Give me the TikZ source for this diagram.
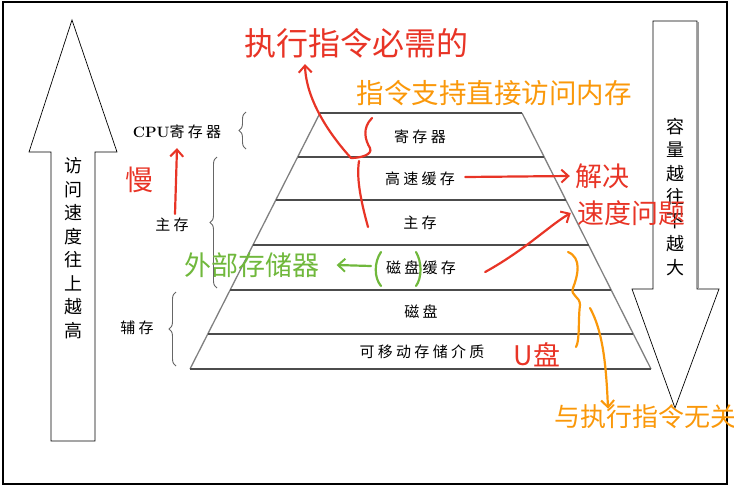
\documentclass[tikz,border=0pt]{standalone}
\usepackage{fontspec}
\newfontfamily\cjk{Noto Sans CJK SC}
\newfontfamily\cjkspaced[LetterSpace=22]{Noto Sans CJK SC}
\usetikzlibrary{arrows.meta,decorations.pathreplacing}
\definecolor{penred}{RGB}{232,52,38}
\definecolor{penorange}{RGB}{250,152,10}
\definecolor{pengreen}{RGB}{112,184,60}
\tikzset{
  layer/.style={font=\fontsize{15}{15}\cjkspaced, inner sep=0pt},
  memline/.style={draw=black!70, line width=1.3pt},
  memedge/.style={draw=black!50, line width=1.3pt},
  sidebrace/.style={decorate, decoration={brace, amplitude=7pt}, draw=black!60, line width=0.9pt},
  bigarrow/.style={draw=black, line width=0.7pt, fill=white},
  vtext/.style={font=\fontsize{18}{23.5}\cjk, align=center, inner sep=0pt},
  pen/.style={line width=2.2pt, line cap=round, line join=round},
  penhead/.style={-{Straight Barb[length=7pt, width=13pt, line width=2pt]}},
  note/.style={inner sep=0pt},
}

\begin{document}
\begin{tikzpicture}[x=1pt, y=-1pt]
  \useasboundingbox (0,0) rectangle (734,490);
  \draw[line width=1.2pt] (3,2) rectangle (727,484);

  % speed / capacity arrows
  \draw[bigarrow] (72,20) -- (117,152) -- (95,152) -- (95,441) -- (51,441)
    -- (51,152) -- (29,152) -- cycle;
  \node[vtext] (speedtxt) at (73,248) {访\\问\\速\\度\\往\\上\\越\\高};
  \draw[bigarrow] (653,21) -- (697,21) -- (697,289) -- (719,289) -- (675,408)
    -- (632,289) -- (653,289) -- cycle;
  \draw[black!40, line width=1.5pt] (698,22) -- (698,288);
  \node[vtext] (sizetxt) at (675,197) {容\\量\\越\\往\\下\\越\\大};

  % pyramid
  \draw[memedge] (190,369) -- (320,113);
  \draw[memedge] (522,113) -- (651,369);
  \draw[memline] (320,113) -- (522,113);
  \draw[memline] (190,369) -- (651,369);
  \foreach \y in {157,200,245,290,334}
    \draw[memline] ({320-(\y-113)/256*130},\y) -- ({522+(\y-113)/256*129},\y);

  \node[layer] (reg) at (420,137) {寄存器};
  \node[layer] (cache) at (420,179) {高速缓存};
  \node[layer] (mainmem) at (420,223) {主存};
  \node[layer] (diskcache) at (421,268) {磁盘缓存};
  \node[layer] (disk) at (421,312) {磁盘};
  \node[layer] (removable) at (422,352) {可移动存储介质};

  % left labels
  \node[layer] (cpuside) at (177,132) {{\rmfamily\bfseries CPU}寄存器};
  \node[layer] (mainside) at (172,225) {主存};
  \node[layer] (auxside) at (137,328) {辅存};
  \draw[sidebrace] (246,149) -- (246,112);
  \draw[sidebrace] (217,288) -- (217,157);
  \draw[sidebrace] (176,366) -- (176,292);

  % red notes
  \node[note, text=penred, font=\fontsize{32}{32}\cjk] (need) at (356,43) {执行指令必需的};
  \coordinate (bracetip) at (351,158);
  \draw[pen, penred] (372,118) .. controls (362,128) and (365,140) .. (370,148)
    .. controls (373,155) and (360,158) .. (bracetip);
  \draw[pen, penred] (359,161) .. controls (356,180) and (362,205) .. (368,227);
  \draw[pen, penred, penhead] (bracetip) .. controls (330,135) and (306,100) .. ([xshift=-51pt, yshift=-6pt]need.south);
  \node[note, text=penred, font=\fontsize{28}{28}\cjk] (slow) at (139,180) {慢};
  \draw[pen, penred, penhead] ([xshift=3pt, yshift=4pt]mainside.north) -- ([yshift=-9pt]cpuside.south);
  \node[note, text=penred, font=\fontsize{27}{27}\cjk] (solve) at (602,176) {解决};
  \node[note, text=penred, font=\fontsize{27}{27}\cjk] (speed) at (631,213) {速度问题};
  \draw[pen, penred, penhead] ([xshift=10pt, yshift=2pt]cache.east) -- ([xshift=-5pt]solve.west);
  \draw[pen, penred, penhead] ([xshift=29pt, yshift=-4pt]diskcache.east)
    .. controls (525,250) and (550,225) .. ([xshift=-6pt]speed.west);
  \node[note, text=penred, font=\fontsize{27}{27}\cjk] (udisk) at (537,355) {U盘};

  % orange notes
  \node[note, text=penorange, font=\fontsize{27.5}{27.5}\cjk] (direct) at (494,93) {指令支持直接访问内存};
  \node[note, text=penorange, font=\fontsize{26}{26}\cjk] (unrelated) at (645,417) {与执行指令无关};
  \draw[pen, penorange] (568,252) .. controls (582,258) and (578,275) .. (573,288)
    .. controls (570,296) and (580,296) .. (580,305) .. controls (578,320) and (580,340) .. (576,347);
  \draw[pen, penorange, penhead] (590,308) .. controls (602,330) and (606,360) .. ([xshift=-37pt, yshift=-4pt]unrelated.north);

  % green notes
  \node[note, text=pengreen, font=\fontsize{27}{27}\cjk] (external) at (252,265) {外部存储器};
  \coordinate (lparen) at (371,266);
  \draw[pen, pengreen] (381,252) .. controls (374,262) and (374,278) .. (381,286);
  \draw[pen, pengreen] (416,252) .. controls (422,262) and (422,278) .. (416,286);
  \draw[pen, pengreen, penhead] (lparen) -- ([xshift=17pt]external.east);
\end{tikzpicture}
\end{document}
